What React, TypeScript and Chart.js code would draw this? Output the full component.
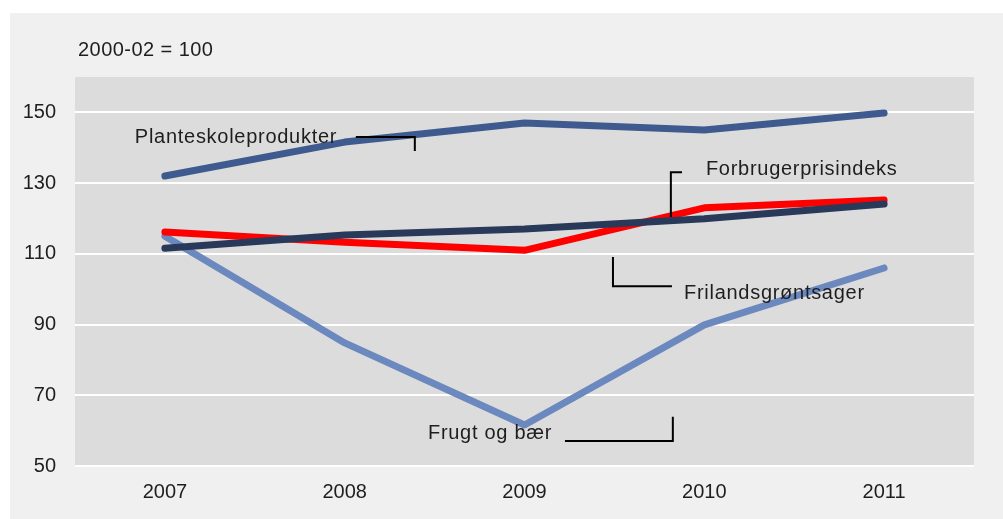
import React, { useEffect, useRef } from "react";
import { Chart, registerables } from "chart.js";

Chart.register(...registerables);

const years = ["2007", "2008", "2009", "2010", "2011"];
const planteskole = [132, 141.6, 147, 145, 149.8];
const forbruger = [111.6, 115.3, 117, 119.9, 124.1];
const friland = [116.2, 113.3, 111, 123, 125.2];
const frugt = [115, 84.8, 61.6, 89.9, 106];

const yTicks = [50, 70, 90, 110, 130, 150];
const yMin = 50;
const yMax = 160;
const unitNote = "2000-02 = 100";

const labelTexts = ["Planteskoleprodukter", "Forbrugerprisindeks", "Frilandsgrøntsager", "Frugt og bær"];
const labelX = [-0.167, 3.009, 2.887, 1.463];
const labelY = [142.8, 133.8, 98.7, 59.1];
const leaderLines: number[][][] = [
  [[1.062, 143.0], [1.39, 143.0], [1.39, 139.1]],
  [[2.876, 133.1], [2.814, 133.1], [2.814, 120.4]],
  [[2.492, 109.1], [2.492, 100.8], [2.82, 100.8]],
  [[2.225, 57.1], [2.825, 57.1], [2.825, 63.9]],
];

const FONT = "Arial, 'Liberation Sans', sans-serif";

export default function App() {
  const ref = useRef<HTMLCanvasElement | null>(null);
  useEffect(() => {
    if (!ref.current) return;
    const bgPlugin = {
      id: "plotBg",
      beforeDraw(chart: any) {
        const { ctx, chartArea } = chart;
        ctx.save();
        ctx.fillStyle = "#dcdcdc";
        ctx.fillRect(chartArea.left, chartArea.top, chartArea.right - chartArea.left, chartArea.bottom - chartArea.top);
        ctx.restore();
      },
    };
    const annotPlugin = {
      id: "annot",
      afterDatasetsDraw(chart: any) {
        const { ctx, chartArea } = chart;
        const xs = chart.scales.x;
        const ys = chart.scales.y;
        ctx.save();
        ctx.fillStyle = "#1e1e1e";
        ctx.font = `20px ${FONT}`;
        ctx.textBaseline = "middle";
        ctx.textAlign = "left";
        (ctx as any).letterSpacing = "0.45px";
        ctx.fillText(unitNote, chartArea.left + 3, chartArea.top - 27);
        (ctx as any).letterSpacing = "0.72px";
        labelTexts.forEach((t, i) => {
          ctx.fillText(t, xs.getPixelForValue(labelX[i]), ys.getPixelForValue(labelY[i]));
        });
        (ctx as any).letterSpacing = "0px";
        ctx.strokeStyle = "#000";
        ctx.lineWidth = 2;
        ctx.lineCap = "butt";
        ctx.lineJoin = "miter";
        leaderLines.forEach((pts) => {
          ctx.beginPath();
          pts.forEach((p, j) => {
            const px = xs.getPixelForValue(p[0]);
            const py = ys.getPixelForValue(p[1]);
            if (j === 0) ctx.moveTo(px, py);
            else ctx.lineTo(px, py);
          });
          ctx.stroke();
        });
        ctx.restore();
      },
    };
    const mk = (label: string, data: number[], color: string) => ({
      label,
      data,
      borderColor: color,
      backgroundColor: color,
      borderWidth: 7,
      pointRadius: 0,
      pointHoverRadius: 0,
      tension: 0,
      borderCapStyle: "round" as const,
      borderJoinStyle: "round" as const,
    });
    const chart = new Chart(ref.current, {
      type: "line",
      data: {
        labels: years,
        datasets: [
          mk("Planteskoleprodukter", planteskole, "#3f5a8e"),
          mk("Forbrugerprisindeks", forbruger, "#28395a"),
          mk("Frilandsgrøntsager", friland, "#ff0000"),
          mk("Frugt og bær", frugt, "#6c89bf"),
        ],
      },
      options: {
        animation: false,
        responsive: true,
        maintainAspectRatio: false,
        layout: { padding: { left: 0, right: 29, top: 64, bottom: 0 } },
        plugins: { legend: { display: false }, tooltip: { enabled: false }, title: { display: false } },
        scales: {
          x: {
            offset: true,
            grid: { display: false, drawTicks: false },
            border: { display: false },
            ticks: { color: "#1e1e1e", font: { size: 20, family: FONT }, padding: 14, maxRotation: 0 },
            afterFit(scale: any) {
              scale.height = 53;
            },
          },
          y: {
            min: yMin,
            max: yMax,
            grid: { color: "#ffffff", lineWidth: 2, drawTicks: false },
            border: { display: false },
            ticks: { color: "#1e1e1e", font: { size: 20, family: FONT }, padding: 19 },
            afterBuildTicks(scale: any) {
              scale.ticks = yTicks.map((v) => ({ value: v }));
            },
            afterFit(scale: any) {
              scale.width = 65;
            },
          },
        },
      },
      plugins: [bgPlugin, annotPlugin],
    });
    return () => chart.destroy();
  }, []);
  return (
    <div style={{ position: "fixed", left: 10, top: 13, width: 993, height: 506, background: "#f0f0f0" }}>
      <canvas ref={ref} />
    </div>
  );
}
